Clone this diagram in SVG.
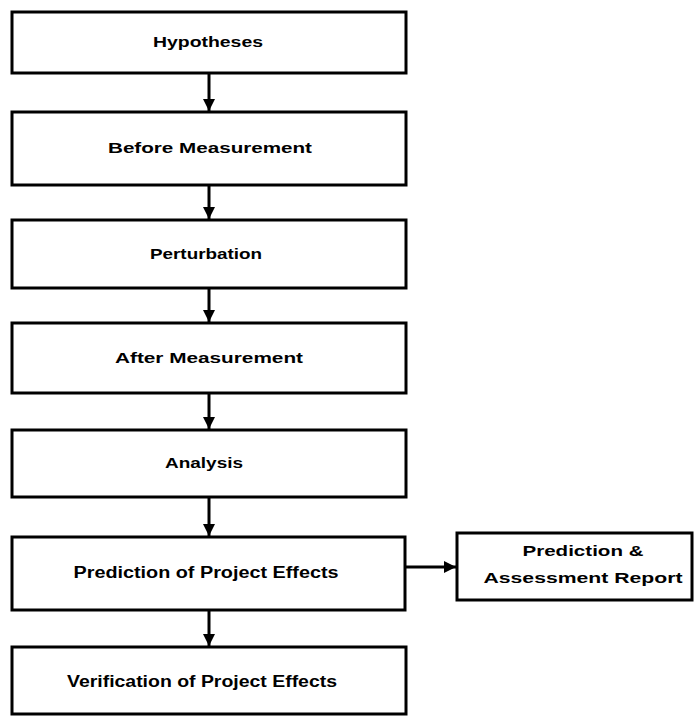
<svg xmlns="http://www.w3.org/2000/svg" width="694" height="717" viewBox="0 0 694 717">
<style>
.box{fill:#fff;stroke:#000;stroke-width:3}
.t{font-family:"Liberation Sans",Arial,sans-serif;font-weight:bold;font-size:15px;fill:#000;text-anchor:middle}
.c{stroke:#000;stroke-width:3;fill:none}
</style>
<defs>
<marker id="ah" viewBox="0 0 10 10" refX="10" refY="5" markerWidth="4" markerHeight="4" orient="auto" markerUnits="strokeWidth">
<path d="M0,0 L10,5 L0,10 z" fill="#000"/>
</marker>
</defs>
<rect width="694" height="717" fill="#fff"/>
<g id="connectors">
<line class="c" x1="209" y1="73" x2="209" y2="111" marker-end="url(#ah)"/>
<line class="c" x1="209" y1="185" x2="209" y2="219" marker-end="url(#ah)"/>
<line class="c" x1="209" y1="288" x2="209" y2="322" marker-end="url(#ah)"/>
<line class="c" x1="209" y1="393" x2="209" y2="429" marker-end="url(#ah)"/>
<line class="c" x1="209" y1="497" x2="209" y2="536" marker-end="url(#ah)"/>
<line class="c" x1="209" y1="610" x2="209" y2="646" marker-end="url(#ah)"/>
<line class="c" x1="405" y1="567" x2="456" y2="567" marker-end="url(#ah)"/>
</g>
<g id="n1"><rect class="box" x="12" y="12" width="394" height="61"/><text class="t" x="208" y="47" textLength="110" lengthAdjust="spacingAndGlyphs">Hypotheses</text></g>
<g id="n2"><rect class="box" x="12" y="112" width="394" height="73"/><text class="t" x="210" y="153" textLength="204" lengthAdjust="spacingAndGlyphs">Before  Measurement</text></g>
<g id="n3"><rect class="box" x="12" y="220" width="394" height="68"/><text class="t" x="206" y="259" textLength="112" lengthAdjust="spacingAndGlyphs">Perturbation</text></g>
<g id="n4"><rect class="box" x="12" y="323" width="394" height="70"/><text class="t" x="209" y="363" textLength="188" lengthAdjust="spacingAndGlyphs">After Measurement</text></g>
<g id="n5"><rect class="box" x="12" y="430" width="394" height="67"/><text class="t" x="204" y="468" textLength="78" lengthAdjust="spacingAndGlyphs">Analysis</text></g>
<g id="n6"><rect class="box" x="12" y="537" width="393" height="73"/><text class="t" x="206" y="578" textLength="265" lengthAdjust="spacingAndGlyphs" style="font-size:16px">Prediction of Project Effects</text></g>
<g id="n7"><rect class="box" x="12" y="647" width="394" height="67"/><text class="t" x="202" y="687" textLength="270" lengthAdjust="spacingAndGlyphs" style="font-size:16px">Verification of Project Effects</text></g>
<g id="n8"><rect class="box" x="457" y="533" width="235" height="67"/><text class="t" x="583" y="556" textLength="121" lengthAdjust="spacingAndGlyphs">Prediction &amp;</text><text class="t" x="583" y="583" textLength="199" lengthAdjust="spacingAndGlyphs">Assessment Report</text></g>
</svg>
